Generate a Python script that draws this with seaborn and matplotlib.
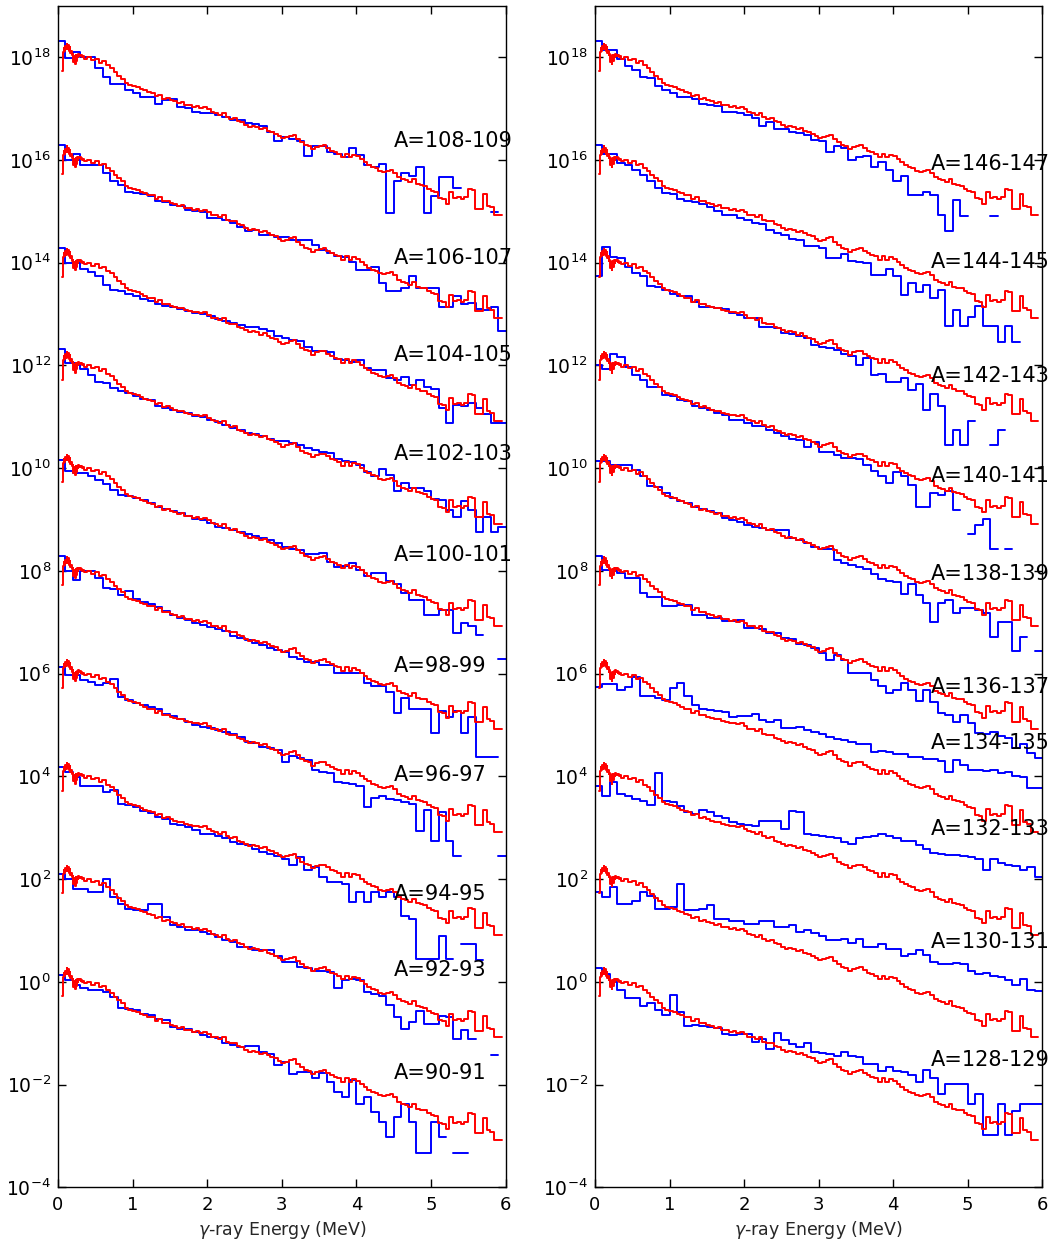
import numpy as np
import pandas as pd
import matplotlib
matplotlib.use("Agg")
import matplotlib.pyplot as plt
from matplotlib.ticker import NullLocator, FixedLocator, LogFormatterMathtext
import seaborn as sns

nan = np.nan

# ---------------- data (log10 of intensity relative to each spectrum's offset) -------------
# red reference spectrum (same shape for every mass pair)
red_fine_start, red_fine_width = 0.055, 0.01
red_fine = [-0.28, 0.10, 0.18, 0.12, 0.22, 0.15, 0.26, 0.16, 0.24, 0.12, 0.20, 0.08, 0.12,
            0.04, 0.06, -0.10, 0.02, -0.14, 0.04, -0.08, 0.05, 0.00, 0.06, 0.03, 0.05, 0.02,
            0.04, 0.00, 0.02]
red_coarse_start, red_coarse_width = 0.345, 0.05
red_coarse = [-0.03, 0.00, -0.06, -0.03, -0.11, -0.08, -0.16, -0.21, -0.29, -0.36,
              -0.42, -0.50, -0.54, -0.56, -0.58, -0.62, -0.65, -0.68, -0.69, -0.76,
              -0.73, -0.81, -0.80, -0.84, -0.86, -0.89, -0.88, -0.93, -0.94, -0.97,
              -0.96, -0.99, -0.97, -1.02, -1.07, -1.08, -1.12, -1.08, -1.17, -1.20,
              -1.19, -1.25, -1.27, -1.32, -1.36, -1.34, -1.36, -1.40, -1.38, -1.43,
              -1.46, -1.49, -1.54, -1.58, -1.56, -1.53, -1.51, -1.59, -1.66, -1.71,
              -1.73, -1.79, -1.75, -1.73, -1.72, -1.77, -1.82, -1.85, -1.88, -1.95,
              -1.88, -1.95, -1.90, -1.93, -1.99, -2.05, -2.10, -2.14, -2.16, -2.21,
              -2.23, -2.21, -2.19, -2.25, -2.34, -2.38, -2.40, -2.44, -2.38, -2.47,
              -2.49, -2.50, -2.56, -2.60, -2.62, -2.75, -2.77, -2.86, -2.63, -2.75,
              -2.73, -2.77, -2.73, -2.56, -2.58, -2.95, -2.95, -2.66, -2.89, -2.92,
              -3.08, -3.08]

blue_bin_width = 0.1

# left panel
b90 = [0.13, 0.03, -0.06, -0.13, -0.16, -0.15, -0.19, -0.29, -0.50, -0.52,
       -0.55, -0.62, -0.65, -0.73, -0.75, -0.88, -0.91, -0.91, -0.97, -1.04,
       -1.07, -1.10, -1.19, -1.23, -1.27, -1.25, -1.25, -1.36, -1.40, -1.62,
       -1.56, -1.79, -1.75, -1.75, -1.88, -1.77, -1.95, -2.14, -2.24, -1.92,
       -2.37, -2.24, -2.53, -2.73, -3.03, -2.63, -2.37, -2.73, -3.33, -3.33,
       -2.73, -3.03, nan, -3.33, -3.33, nan, nan, nan, nan, nan]
b92 = [0.10, 0.00, -0.19, -0.19, -0.25, -0.25, 0.00, -0.35, -0.48, -0.58,
       -0.61, -0.61, -0.48, -0.48, -0.74, -0.90, -0.94, -0.99, -1.00, -1.03,
       -1.06, -1.13, -1.18, -1.23, -1.32, -1.32, -1.38, -1.39, -1.38, -1.49,
       -1.62, -1.62, -1.71, -1.74, -1.79, -1.79, -1.81, -2.12, -1.97, -1.94,
       -1.97, -2.20, -2.23, -2.27, -2.46, -2.69, -2.92, -2.79, -2.56, -2.82,
       -2.82, -2.66, -2.69, -3.11, -2.94, -3.11, nan, nan, -3.42, nan]
b94 = [0.18, 0.08, -0.01, -0.18, -0.18, -0.18, -0.31, -0.27, -0.53, -0.56,
       -0.60, -0.68, -0.71, -0.79, -0.84, -0.92, -0.95, -0.99, -1.04, -1.12,
       -1.13, -1.17, -1.21, -1.28, -1.31, -1.34, -1.41, -1.47, -1.51, -1.56,
       -1.60, -1.73, -1.57, -1.83, -1.77, -1.96, -2.06, -2.06, -2.09, -2.45,
       -2.25, -2.45, -2.25, -2.34, -2.25, -2.35, -2.71, -2.77, -3.55, -3.55,
       -3.55, -3.10, -3.55, nan, -3.26, -3.26, -3.57, nan, nan, nan]
b96 = [0.13, -0.03, -0.03, -0.12, -0.16, -0.23, -0.18, -0.10, -0.45, -0.51,
       -0.58, -0.62, -0.65, -0.68, -0.78, -0.83, -0.88, -0.94, -1.01, -1.04,
       -1.05, -1.09, -1.14, -1.18, -1.23, -1.33, -1.36, -1.43, -1.44, -1.49,
       -1.72, -1.61, -1.64, -1.69, -1.88, -1.92, -1.94, -2.11, -2.13, -2.14,
       -2.18, -2.60, -2.42, -2.39, -2.45, -2.47, -2.50, -2.53, -3.06, -2.66,
       -3.25, -2.69, -3.25, -3.56, nan, nan, -2.95, nan, nan, -3.56]
b98 = [0.28, 0.00, -0.18, -0.01, -0.01, -0.14, -0.34, -0.36, -0.47, -0.40,
       -0.55, -0.60, -0.65, -0.70, -0.78, -0.86, -0.92, -0.95, -1.02, -1.06,
       -1.10, -1.14, -1.18, -1.26, -1.30, -1.35, -1.40, -1.44, -1.51, -1.54,
       -1.58, -1.67, -1.72, -1.77, -1.77, -1.83, -1.83, -1.99, -1.99, -1.99,
       -1.99, -2.19, -2.25, -2.25, -2.35, -2.77, -2.48, -2.68, -2.68, -2.68,
       -3.15, -2.72, -2.84, -2.72, -3.15, -2.84, -3.62, -3.62, -3.62, nan]
b100 = [0.16, -0.06, -0.10, -0.10, -0.16, -0.23, -0.31, -0.42, -0.52, -0.54,
        -0.58, -0.62, -0.67, -0.75, -0.80, -0.84, -0.88, -0.94, -0.99, -1.01,
        -1.07, -1.14, -1.17, -1.21, -1.25, -1.28, -1.32, -1.36, -1.40, -1.46,
        -1.53, -1.58, -1.60, -1.67, -1.67, -1.66, -1.82, -1.93, -1.90, -1.85,
        -1.98, -2.11, -2.05, -2.05, -2.20, -2.25, -2.44, -2.56, -2.56, -2.86,
        -2.86, -2.76, -2.76, -3.21, -3.02, -3.08, -3.25, nan, nan, -3.72]
b102 = [0.31, 0.05, 0.05, -0.08, -0.18, -0.32, -0.34, -0.44, -0.49, -0.54,
        -0.60, -0.66, -0.68, -0.79, -0.83, -0.86, -0.90, -0.93, -0.98, -1.01,
        -1.06, -1.11, -1.16, -1.22, -1.25, -1.31, -1.33, -1.38, -1.44, -1.48,
        -1.48, -1.51, -1.55, -1.61, -1.64, -1.69, -1.71, -1.82, -1.87, -1.89,
        -1.94, -2.08, -2.16, -2.02, -2.13, -2.45, -2.29, -2.39, -2.39, -2.45,
        -2.60, -2.62, -2.81, -2.95, -2.64, -2.81, -3.25, -2.95, -3.25, -3.14]
b104 = [0.28, -0.01, -0.01, -0.13, -0.18, -0.27, -0.44, -0.53, -0.55, -0.62,
        -0.66, -0.70, -0.74, -0.80, -0.84, -0.86, -0.90, -0.94, -0.98, -1.00,
        -1.04, -1.10, -1.14, -1.18, -1.22, -1.26, -1.25, -1.30, -1.34, -1.42,
        -1.46, -1.50, -1.52, -1.64, -1.73, -1.73, -1.75, -1.88, -1.90, -1.93,
        -1.90, -2.06, -2.09, -2.09, -2.25, -2.29, -2.22, -2.38, -2.29, -2.43,
        -2.47, -2.84, -3.12, -2.77, -2.79, -2.74, -2.84, -2.94, -3.12, -3.13]
b106 = [0.28, 0.00, 0.12, -0.10, -0.11, -0.11, -0.26, -0.42, -0.49, -0.62,
        -0.64, -0.66, -0.71, -0.81, -0.83, -0.88, -0.90, -0.97, -0.99, -1.02,
        -1.14, -1.14, -1.17, -1.22, -1.30, -1.38, -1.36, -1.46, -1.46, -1.51,
        -1.51, -1.56, -1.56, -1.56, -1.66, -1.75, -1.82, -1.88, -1.90, -1.98,
        -2.14, -2.14, -2.08, -2.40, -2.56, -2.56, -2.50, -2.27, -2.50, -2.50,
        -2.50, -2.87, -2.87, -2.65, -2.80, -2.78, -2.90, -2.92, -2.86, -3.34]
b108 = [0.31, -0.02, 0.09, 0.00, 0.00, -0.21, -0.39, -0.52, -0.52, -0.65,
        -0.69, -0.78, -0.77, -0.92, -0.83, -0.82, -0.97, -0.99, -1.06, -1.08,
        -1.09, -1.12, -1.16, -1.22, -1.23, -1.29, -1.30, -1.35, -1.45, -1.64,
        -1.55, -1.60, -1.64, -1.92, -1.74, -1.74, -1.84, -1.88, -1.94, -1.77,
        -1.90, -2.10, -2.13, -2.08, -3.03, -2.42, -2.26, -2.32, -2.13, -3.03,
        -2.71, -2.34, -2.34, -2.55, nan, nan, nan, nan, -3.01, nan]

# right panel
b128 = [0.26, 0.15, 0.00, -0.16, -0.31, -0.32, -0.47, -0.42, -0.55, -0.65,
        -0.26, -0.58, -0.86, -0.84, -0.86, -0.88, -0.89, -1.01, -1.04, -1.01,
        -1.02, -1.17, -1.12, -1.30, -0.99, -1.14, -1.21, -1.27, -1.20, -1.36,
        -1.38, -1.41, -1.45, -1.36, -1.45, -1.47, -1.60, -1.60, -1.73, -1.66,
        -1.73, -1.75, -1.82, -1.95, -1.71, -1.88, -2.19, -1.98, -1.98, -1.98,
        -2.38, -2.19, -2.99, -2.99, -2.38, -2.99, -2.51, -2.38, -2.38, -2.38]
b130 = [-0.25, -0.35, -0.15, -0.48, -0.48, -0.43, -0.25, -0.32, -0.58, -0.58,
        -0.55, -0.09, -0.61, -0.60, -0.58, -0.51, -0.77, -0.77, -0.81, -0.81,
        -0.88, -0.88, -0.81, -0.81, -0.94, -0.94, -0.90, -1.03, -1.00, -1.05,
        -1.10, -1.18, -1.19, -1.16, -1.25, -1.16, -1.32, -1.32, -1.26, -1.36,
        -1.36, -1.49, -1.45, -1.39, -1.47, -1.62, -1.65, -1.65, -1.64, -1.65,
        -1.78, -1.84, -1.83, -1.88, -1.90, -1.96, -2.07, -1.94, -2.16, -2.18]
b132 = [-0.18, -0.39, -0.11, -0.35, -0.39, -0.44, -0.48, -0.55, 0.06, -0.48,
        -0.50, -0.58, -0.69, -0.73, -0.65, -0.69, -0.78, -0.82, -0.89, -0.92,
        -0.94, -0.97, -0.86, -0.86, -0.86, -1.02, -0.68, -0.69, -1.12, -1.15,
        -1.17, -1.18, -1.21, -1.28, -1.31, -1.21, -1.18, -1.17, -1.12, -1.17,
        -1.21, -1.26, -1.26, -1.34, -1.41, -1.49, -1.51, -1.54, -1.54, -1.56,
        -1.58, -1.60, -1.82, -1.60, -1.69, -1.73, -1.75, -1.82, -1.77, -1.95]
b134 = [-0.27, -0.21, -0.21, -0.32, -0.27, -0.06, -0.44, -0.44, -0.47, -0.51,
        -0.29, -0.19, -0.44, -0.62, -0.68, -0.70, -0.73, -0.75, -0.84, -0.83,
        -0.83, -0.79, -0.91, -0.94, -0.90, -1.05, -1.05, -1.04, -1.09, -1.14,
        -1.18, -1.23, -1.27, -1.30, -1.33, -1.38, -1.38, -1.53, -1.51, -1.53,
        -1.57, -1.57, -1.62, -1.62, -1.66, -1.66, -1.70, -1.92, -1.68, -1.77,
        -1.87, -1.88, -1.90, -1.88, -1.94, -1.92, -2.00, -2.01, -2.22, -2.22]
b136 = [0.29, 0.02, 0.02, -0.05, -0.14, -0.14, -0.44, -0.50, -0.50, -0.69,
        -0.69, -0.66, -0.66, -0.86, -0.86, -0.92, -0.92, -0.97, -0.97, -0.95,
        -1.12, -1.12, -1.14, -1.21, -1.21, -1.31, -1.33, -1.42, -1.44, -1.51,
        -1.59, -1.73, -1.64, -1.73, -1.98, -1.98, -1.99, -2.12, -2.25, -2.38,
        -2.32, -2.18, -2.32, -2.53, -2.32, -2.55, -2.76, -2.81, -2.95, -2.81,
        -2.97, -3.15, -3.18, -3.13, -3.22, -3.26, -3.45, -3.37, -3.55, -3.65]
b138 = [0.13, 0.13, 0.06, 0.06, 0.06, -0.03, -0.16, -0.34, -0.37, -0.49,
        -0.58, -0.65, -0.67, -0.75, -0.80, -0.84, -0.88, -0.97, -1.01, -1.04,
        -1.10, -1.14, -1.17, -1.20, -1.20, -1.21, -1.36, -1.40, -1.45, -1.53,
        -1.58, -1.58, -1.78, -1.84, -1.88, -1.92, -1.97, -2.06, -2.16, -2.19,
        -2.21, -2.45, -2.25, -2.48, -2.62, -2.99, -2.63, -2.56, -2.82, -2.73,
        -2.73, -2.76, -2.82, -3.28, -2.99, -2.99, -3.57, -3.28, nan, -3.57]
b140 = [0.00, -0.08, 0.23, 0.16, -0.03, -0.18, -0.28, -0.42, -0.42, -0.57,
        -0.59, -0.67, -0.70, -0.80, -0.83, -0.86, -0.93, -0.96, -1.06, -1.06,
        -1.12, -1.18, -1.19, -1.25, -1.32, -1.38, -1.44, -1.46, -1.58, -1.50,
        -1.68, -1.69, -1.74, -1.81, -1.81, -1.82, -1.94, -2.05, -2.16, -2.29,
        -2.08, -2.16, -2.32, -2.75, -2.75, -2.49, -2.52, -2.44, -2.81, nan,
        -3.28, -3.10, -2.99, -3.58, nan, -3.58, nan, nan, nan, nan]
b142 = [-0.26, 0.30, 0.10, 0.08, -0.08, -0.21, -0.27, -0.45, -0.48, -0.53,
        -0.61, -0.65, -0.66, -0.76, -0.86, -0.86, -0.89, -0.91, -0.99, -1.02,
        -1.08, -1.08, -1.26, -1.25, -1.28, -1.38, -1.39, -1.43, -1.47, -1.60,
        -1.64, -1.67, -1.70, -1.78, -1.82, -1.99, -1.86, -2.19, -2.16, -2.32,
        -2.32, -2.25, -2.48, -2.36, -2.86, -2.56, -2.79, -3.55, -3.26, -3.55,
        -3.08, nan, nan, -3.55, -3.26, nan, nan, nan, nan, nan]
b144 = [0.28, 0.12, 0.12, -0.06, -0.10, -0.19, -0.29, -0.42, -0.55, -0.64,
        -0.66, -0.77, -0.81, -0.83, -0.86, -0.91, -0.99, -1.07, -1.07, -1.14,
        -1.17, -1.22, -1.25, -1.36, -1.43, -1.46, -1.55, -1.57, -1.68, -1.68,
        -1.72, -1.92, -1.92, -1.83, -1.96, -1.98, -2.01, -2.24, -2.24, -2.13,
        -2.27, -2.63, -2.40, -2.58, -2.44, -2.68, -2.53, -3.23, -2.92, -3.23,
        -3.05, -2.84, -3.23, -3.23, -3.54, -3.23, -3.54, nan, nan, nan]
b146 = [0.31, 0.14, 0.13, -0.04, -0.17, -0.26, -0.39, -0.41, -0.57, -0.65,
        -0.70, -0.77, -0.77, -0.82, -0.91, -0.93, -0.96, -1.06, -1.06, -1.09,
        -1.12, -1.19, -1.34, -1.27, -1.40, -1.40, -1.45, -1.48, -1.51, -1.61,
        -1.64, -1.84, -1.74, -1.77, -2.01, -1.94, -1.92, -2.13, -2.05, -2.19,
        -2.42, -2.32, -2.68, -2.68, -2.62, -2.68, -3.07, -3.38, -2.79, -3.09,
        nan, nan, nan, -3.09, nan, nan, nan, nan, nan, nan]

left_labels = ["A=90-91", "A=92-93", "A=94-95", "A=96-97", "A=98-99",
               "A=100-101", "A=102-103", "A=104-105", "A=106-107", "A=108-109"]
left_blue = [b90, b92, b94, b96, b98, b100, b102, b104, b106, b108]
left_label_logy = [-1.77, 0.23, 1.70, 4.02, 6.14, 8.30, 10.28, 12.21, 14.09, 16.36]

right_labels = ["A=128-129", "A=130-131", "A=132-133", "A=134-135", "A=136-137",
                "A=138-139", "A=140-141", "A=142-143", "A=144-145", "A=146-147"]
right_blue = [b128, b130, b132, b134, b136, b138, b140, b142, b144, b146]
right_label_logy = [-1.53, 0.78, 2.98, 4.64, 5.74, 7.93, 9.85, 11.80, 14.01, 15.92]

offsets = [0, 2, 4, 6, 8, 10, 12, 14, 16, 18]   # log10 vertical offset of each spectrum
ytick_exponents = [-4, -2, 0, 2, 4, 6, 8, 10, 12, 14, 16, 18]
xtick_values = [0, 1, 2, 3, 4, 5, 6]

# ---------------- helpers -------------
def step_rows(edges, logvals, offset, tag):
    rows = []
    vals = np.asarray(logvals, dtype=float)
    n = len(vals)
    i = 0
    seg = 0
    while i < n:
        if np.isnan(vals[i]):
            i += 1
            continue
        j = i
        while j + 1 < n and not np.isnan(vals[j + 1]):
            j += 1
        xs = list(edges[i:j + 2])
        ys = list(vals[i:j + 1]) + [vals[j]]
        for x, y in zip(xs, ys):
            rows.append({"E": x, "I": 10.0 ** (offset + y), "unit": f"{tag}_{seg}"})
        seg += 1
        i = j + 1
    return rows


red_edges = np.concatenate([
    red_fine_start + red_fine_width * np.arange(len(red_fine)),
    red_coarse_start + red_coarse_width * np.arange(len(red_coarse) + 1),
])
red_vals = list(red_fine) + list(red_coarse)

# ---------------- style -------------
sns.set_style("ticks")
plt.rcParams.update({
    "font.family": ["DejaVu Sans"],
    "xtick.direction": "in",
    "ytick.direction": "in",
    "xtick.top": True,
    "ytick.right": True,
    "xtick.major.size": 6,
    "ytick.major.size": 6,
    "xtick.major.width": 1.0,
    "ytick.major.width": 1.0,
    "xtick.major.pad": 6,
    "ytick.major.pad": 5,
    "axes.linewidth": 1.0,
    "axes.edgecolor": "black",
    "xtick.color": "black",
    "ytick.color": "black",
    "mathtext.fontset": "dejavusans",
})

fig = plt.figure(figsize=(10.56, 12.43), dpi=100)
ax_l = fig.add_axes([0.0549, 0.0448, 0.4240, 0.9506])
ax_r = fig.add_axes([0.5634, 0.0448, 0.4236, 0.9506])

for ax, blues, labels, label_y in [(ax_l, left_blue, left_labels, left_label_logy),
                                    (ax_r, right_blue, right_labels, right_label_logy)]:
    ax.set_yscale("log")
    blue_rows, red_rows = [], []
    for k, (bvals, off) in enumerate(zip(blues, offsets)):
        bedges = blue_bin_width * np.arange(len(bvals) + 1)
        blue_rows += step_rows(bedges, bvals, off, f"b{k}")
        red_rows += step_rows(red_edges, red_vals, off, f"r{k}")
    dfb = pd.DataFrame(blue_rows)
    dfr = pd.DataFrame(red_rows)
    sns.lineplot(data=dfb, x="E", y="I", units="unit", estimator=None, color="#0000ff",
                 lw=1.4, drawstyle="steps-post", legend=False, ax=ax, sort=False)
    sns.lineplot(data=dfr, x="E", y="I", units="unit", estimator=None, color="#ff0000",
                 lw=1.4, drawstyle="steps-post", legend=False, ax=ax, sort=False)
    for lab, ly in zip(labels, label_y):
        ax.text(4.5, 10.0 ** ly, lab, fontsize=15, ha="left", va="center", color="black")
    ax.set_xlim(0, 6)
    ax.set_ylim(1e-4, 1e19)
    ax.xaxis.set_major_locator(FixedLocator(xtick_values))
    ax.yaxis.set_major_locator(FixedLocator([10.0 ** e for e in ytick_exponents]))
    ax.yaxis.set_major_formatter(LogFormatterMathtext())
    ax.yaxis.set_minor_locator(NullLocator())
    ax.xaxis.set_minor_locator(NullLocator())
    ax.tick_params(axis="x", which="major", labelsize=13)
    ax.tick_params(axis="y", which="major", labelsize=13.5)
    ax.set_xlabel(r"$\gamma$-ray Energy (MeV)", fontsize=12.5)
    ax.set_ylabel("")
    for sp in ax.spines.values():
        sp.set_visible(True)
        sp.set_color("black")

fig.savefig("out.png", dpi=100)
